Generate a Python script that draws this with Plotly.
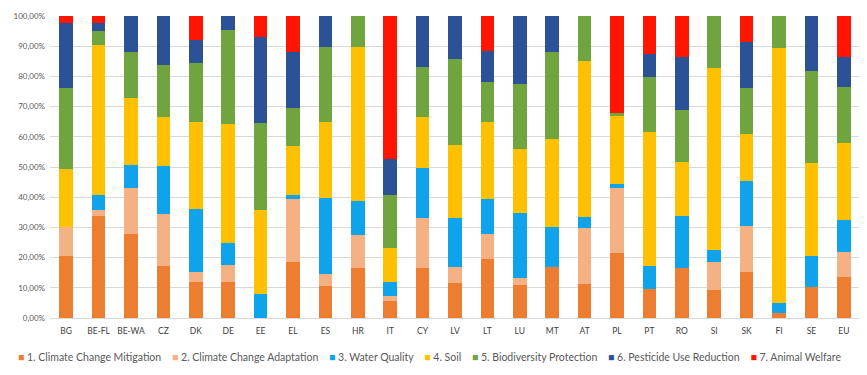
import plotly.graph_objects as go

categories = ["BG", "BE-FL", "BE-WA", "CZ", "DK", "DE", "EE", "EL", "ES", "HR", "IT", "CY",
              "LV", "LT", "LU", "MT", "AT", "PL", "PT", "RO", "SI", "SK", "FI", "SE", "EU"]

mitigation = [20.6, 33.8, 27.8, 17.3, 11.8, 11.8, 0.0, 18.4, 10.7, 16.5, 5.5, 16.5,
              11.6, 19.5, 11.0, 16.9, 11.4, 21.5, 9.6, 16.5, 9.2, 15.1, 1.7, 10.3, 13.6]
adaptation = [9.4, 2.0, 15.4, 17.1, 3.3, 5.8, 0.0, 21.0, 3.9, 11.1, 1.7, 16.6,
              5.3, 8.3, 2.2, 0.0, 18.4, 21.5, 0.0, 0.0, 9.3, 15.2, 0.0, 0.0, 8.2]
water = [0.0, 5.0, 7.5, 16.0, 21.0, 7.4, 7.9, 1.4, 25.1, 11.2, 4.6, 16.7,
         16.2, 11.6, 21.5, 13.2, 3.5, 1.4, 7.5, 17.3, 3.9, 15.2, 3.3, 10.3, 10.5]
soil = [19.3, 49.6, 22.3, 16.3, 28.9, 39.2, 27.9, 16.0, 25.1, 51.1, 11.4, 16.9,
        24.2, 25.6, 21.3, 29.1, 51.9, 22.5, 44.6, 17.8, 60.5, 15.5, 84.5, 30.7, 25.6]
biodiversity = [27.0, 4.7, 15.2, 17.1, 19.3, 31.2, 28.7, 12.9, 25.1, 10.1, 17.6, 16.5,
                28.4, 13.1, 21.4, 29.0, 14.8, 1.1, 18.2, 17.3, 17.1, 15.3, 10.5, 30.5, 18.7]
pesticide = [21.5, 2.7, 11.8, 16.2, 7.8, 4.6, 28.7, 18.5, 10.1, 0.0, 11.9, 16.8,
             14.3, 10.3, 22.6, 11.8, 0.0, 0.0, 7.4, 17.4, 0.0, 15.2, 0.0, 18.2, 9.7]
animal = [2.2, 2.2, 0.0, 0.0, 7.9, 0.0, 6.8, 11.8, 0.0, 0.0, 47.3, 0.0,
          0.0, 11.6, 0.0, 0.0, 0.0, 32.0, 12.7, 13.7, 0.0, 8.5, 0.0, 0.0, 13.7]

series_names = ["1. Climate Change Mitigation", "2. Climate Change Adaptation", "3. Water Quality",
                "4. Soil", "5. Biodiversity Protection", "6. Pesticide Use Reduction", "7. Animal Welfare"]
series_values = [mitigation, adaptation, water, soil, biodiversity, pesticide, animal]
colors = ["#ED7D31", "#F4B183", "#0FA3EB", "#FFC000", "#6FA43F", "#2B5297", "#FF1500"]

tick_vals = [0, 10, 20, 30, 40, 50, 60, 70, 80, 90, 100]
tick_text = ["0,00%", "10,00%", "20,00%", "30,00%", "40,00%", "50,00%",
             "60,00%", "70,00%", "80,00%", "90,00%", "100,00%"]

fig = go.Figure()
for name, vals, col in zip(series_names, series_values, colors):
    fig.add_trace(go.Bar(x=categories, y=vals, name=name,
                         marker=dict(color=col, line=dict(width=0)),
                         showlegend=False))

fig.update_layout(barmode="stack", barnorm="percent", bargap=0.58)

# legend built as a single text line of real text
nb = "\u00a0"
parts = []
for name, col in zip(series_names, colors):
    parts.append(f'<span style="color:{col}">\u25A0</span>{nb}{name}')
legend_text = (nb * 4).join(parts)
fig.add_annotation(text=legend_text, xref="paper", yref="paper", x=0.469, y=-0.129,
                   xanchor="center", yanchor="middle", showarrow=False,
                   font=dict(family="Lato, Open Sans, sans-serif", size=10.5, color="#595959"))

fig.update_layout(
    width=852, height=359,
    margin=dict(l=42, r=0, t=8, b=49),
    paper_bgcolor="white", plot_bgcolor="white",
    font=dict(family="Lato, Open Sans, sans-serif", color="#595959"),
    xaxis=dict(showgrid=False, showline=True, linecolor="#D9D9D9", linewidth=1,
               automargin=False, ticklabelstandoff=5,
               tickfont=dict(size=8.5, color="#404040", family="Lato, sans-serif"),
               ticks="", tickangle=0),
    yaxis=dict(range=[0, 100], tickvals=tick_vals, ticktext=tick_text,
               automargin=False, ticklabelstandoff=4,
               showgrid=True, gridcolor="#D9D9D9", gridwidth=1, zeroline=False,
               tickfont=dict(size=8, color="#595959"), ticks="", showline=False),
)

fig.write_html("out.html")
